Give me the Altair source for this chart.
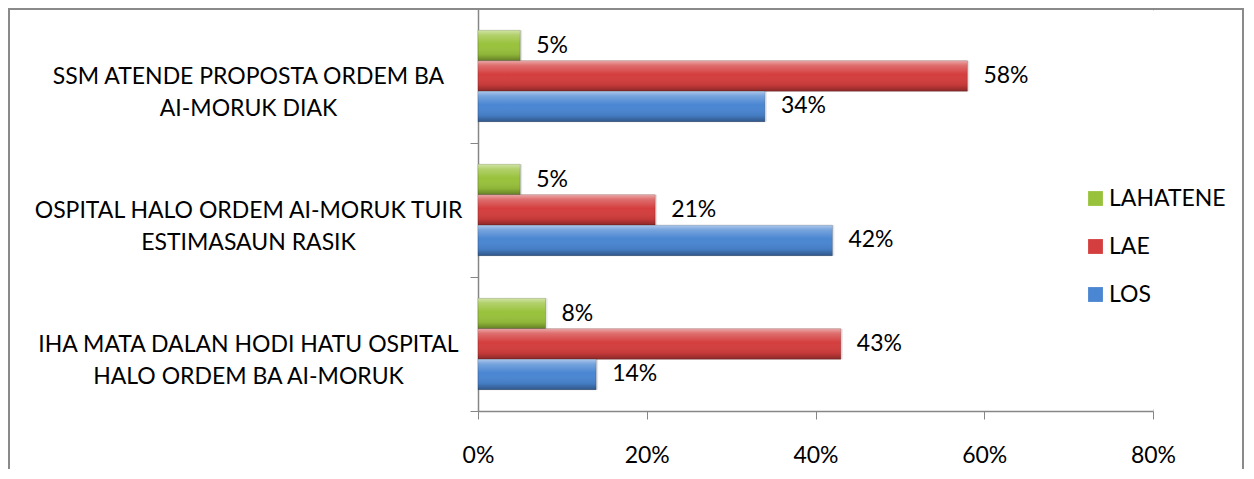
import altair as alt
import pandas as pd

categories = [
    "SSM ATENDE PROPOSTA ORDEM BA|AI-MORUK DIAK",
    "OSPITAL HALO ORDEM AI-MORUK TUIR|ESTIMASAUN RASIK",
    "IHA MATA DALAN HODI HATU OSPITAL|HALO ORDEM BA AI-MORUK",
]
series = ["LAHATENE", "LAE", "LOS"]
colors = ["#99c23c", "#d43e3e", "#4a86d2"]
los = [0.34, 0.42, 0.14]
lae = [0.58, 0.21, 0.43]
lahatene = [0.05, 0.05, 0.08]

values = {"LOS": los, "LAE": lae, "LAHATENE": lahatene}
rows = []
for s in series:
    for c, v in zip(categories, values[s]):
        rows.append({"category": c, "series": s, "value": v})
df = pd.DataFrame(rows)

FONT = "Lato"
FS = 23
W, H = 675, 402

y_enc = alt.Y(
    "category:N",
    sort=categories,
    scale=alt.Scale(paddingInner=0, paddingOuter=0),
    axis=alt.Axis(
        title=None,
        labelExpr="split(datum.label, '|')",
        labelAlign="center",
        labelBaseline="middle",
        labelPadding=222,
        labelFont=FONT,
        labelFontSize=FS,
        labelColor="#000000",
        labelLineHeight=32,
        labelLimit=600,
        tickBand="extent",
        tickSize=8,
        tickColor="#868686",
        domainColor="#868686",
        domainWidth=1.5,
        grid=False,
    ),
)
yoff_enc = alt.YOffset(
    "series:N",
    sort=series,
    scale=alt.Scale(domain=series, paddingInner=0, paddingOuter=0.7),
)
x_enc = alt.X(
    "value:Q",
    scale=alt.Scale(domain=[0, 0.8]),
    axis=alt.Axis(
        title=None,
        values=[0, 0.2, 0.4, 0.6, 0.8],
        format=".0%",
        grid=False,
        labelFlush=False,
        labelFont=FONT,
        labelFontSize=FS,
        labelColor="#000000",
        labelPadding=25,
        tickSize=8,
        tickColor="#868686",
        domainColor="#868686",
        domainWidth=1.5,
    ),
)

base = alt.Chart(df).encode(y=y_enc, yOffset=yoff_enc, x=x_enc)

shadow = base.mark_bar(color="#000000", opacity=0.10, xOffset=2, yOffset=3)

bars = base.mark_bar(stroke="rgba(0,0,0,0.25)", strokeWidth=0.8).encode(
    color=alt.Color(
        "series:N",
        scale=alt.Scale(domain=series, range=colors),
        legend=alt.Legend(
            title=None,
            orient="none",
            legendX=606,
            legendY=178,
            symbolType="square",
            symbolSize=220,
            symbolStrokeWidth=0,
            labelFont=FONT,
            labelFontSize=FS,
            labelColor="#000000",
            labelOffset=2,
            rowPadding=24,
            padding=0,
        ),
    )
)

shine = base.mark_bar(
    color=alt.Gradient(
        gradient="linear",
        x1=0, x2=0, y1=0, y2=1,
        stops=[
            alt.GradientStop(color="rgba(255,255,255,0.55)", offset=0),
            alt.GradientStop(color="rgba(255,255,255,0.25)", offset=0.15),
            alt.GradientStop(color="rgba(255,255,255,0.0)", offset=0.45),
            alt.GradientStop(color="rgba(0,0,0,0.08)", offset=0.8),
            alt.GradientStop(color="rgba(0,0,0,0.35)", offset=1),
        ],
    )
)

labels = base.mark_text(
    align="left", baseline="middle", dx=16, font=FONT, fontSize=FS, color="#000000"
).encode(text=alt.Text("value:Q", format=".0%"))

one = alt.Data(values=[{"a": 1}])
frame_style = dict(color="#8a8a8a", strokeWidth=2)
frame_left = alt.Chart(one).mark_rule(**frame_style).encode(
    x=alt.value(-469), y=alt.value(0), y2=alt.value(520)
)
frame_top = alt.Chart(one).mark_rule(**frame_style).encode(
    x=alt.value(-470), x2=alt.value(766), y=alt.value(0)
)
frame_right = alt.Chart(one).mark_rule(**frame_style).encode(
    x=alt.value(765), y=alt.value(0), y2=alt.value(520)
)
cover = alt.Chart(one).mark_rule(color="#ffffff", strokeWidth=3).encode(
    x=alt.value(675.5), y=alt.value(2), y2=alt.value(400)
)

chart = (
    alt.layer(frame_left, frame_top, frame_right, shadow, bars, shine, labels, cover)
    .properties(
        width=W,
        height=H,
        autosize=alt.AutoSizeParams(type="none"),
        padding={"left": 470, "top": 1, "right": 92, "bottom": 58},
    )
    .configure_view(stroke="transparent", strokeWidth=0)
    .configure(background="white")
)

chart.save("out.html", embed_options={"renderer": "svg", "actions": False})
